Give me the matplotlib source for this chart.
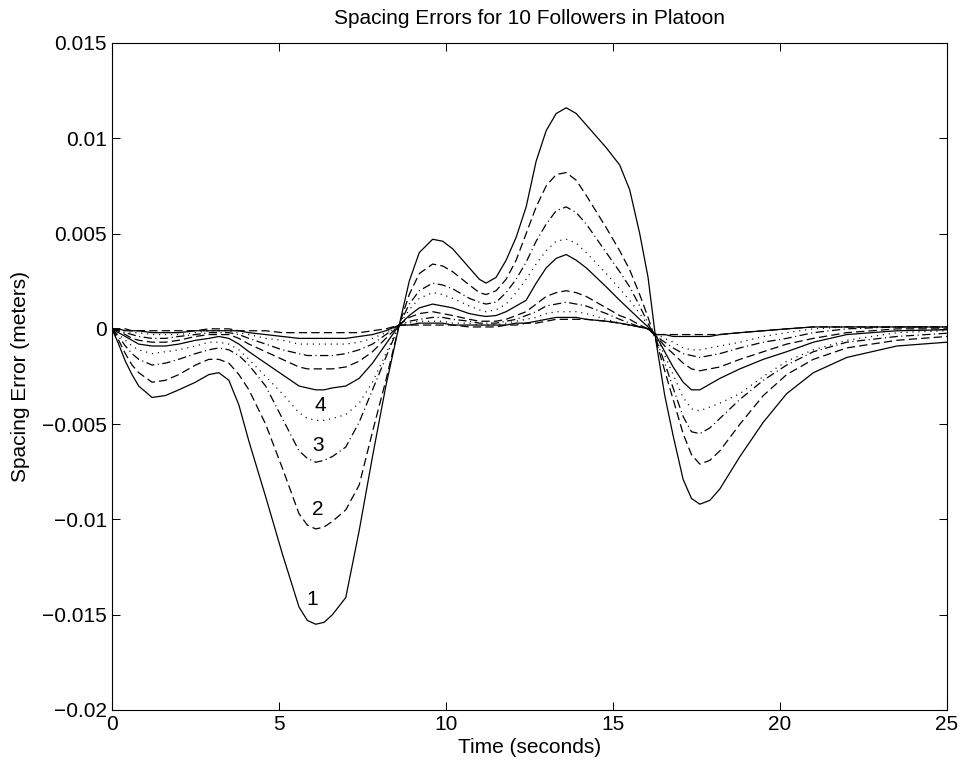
import numpy as np
import matplotlib
matplotlib.use("Agg")
import matplotlib.pyplot as plt

# time samples (s)
t = [0, 0.2, 0.4, 0.6, 0.8, 1.2, 1.6, 2.0,
     2.5, 2.9, 3.2, 3.5, 3.8, 4.1, 4.6, 5.1,
     5.6, 5.85, 6.1, 6.35, 6.6, 7.0, 7.4, 7.8,
     8.2, 8.6, 8.9, 9.2, 9.6, 9.9, 10.2, 10.7,
     11.0, 11.2, 11.5, 11.8, 12.1, 12.4, 12.7, 13.0,
     13.3, 13.6, 13.9, 14.2, 14.8, 15.2, 15.5, 15.8,
     16.05, 16.3, 16.55, 16.8, 17.1, 17.35, 17.6, 17.9,
     18.2, 18.8, 19.5, 20.2, 21.0, 22.0, 23.5, 25.0]

# spacing error of each follower (m)
e1 = [0, -0.0008, -0.0017, -0.0024, -0.0030, -0.0036, -0.0035, -0.0032,
      -0.0028, -0.0024, -0.0023, -0.0027, -0.0040, -0.0059, -0.0088, -0.0118,
      -0.0146, -0.0153, -0.0155, -0.0154, -0.0150, -0.0141, -0.0106, -0.0067,
      -0.0030, 0.0002, 0.0025, 0.0040, 0.0047, 0.0046, 0.0042, 0.0032,
      0.0026, 0.0024, 0.0027, 0.0036, 0.0048, 0.0064, 0.0088, 0.0104,
      0.0113, 0.0116, 0.0113, 0.0107, 0.0095, 0.0086, 0.0073, 0.0050,
      0.0027, -0.0008, -0.0035, -0.0056, -0.0079, -0.0089, -0.0092, -0.0090,
      -0.0084, -0.0067, -0.0049, -0.0034, -0.0023, -0.0015, -0.0009, -0.0007]
e2 = [0, -0.0006, -0.0013, -0.0019, -0.0023, -0.0028, -0.0027, -0.0024,
      -0.0019, -0.0016, -0.0016, -0.0018, -0.0024, -0.0032, -0.0050, -0.0073,
      -0.0097, -0.0103, -0.0105, -0.0104, -0.0101, -0.0095, -0.0082, -0.0054,
      -0.0027, 0.0002, 0.0018, 0.0029, 0.0034, 0.0033, 0.0030, 0.0023,
      0.0019, 0.0018, 0.0020, 0.0026, 0.0036, 0.0050, 0.0064, 0.0075,
      0.0081, 0.0082, 0.0078, 0.0070, 0.0053, 0.0041, 0.0031, 0.0018,
      0.0006, -0.0007, -0.0022, -0.0037, -0.0055, -0.0066, -0.0071, -0.0069,
      -0.0064, -0.0050, -0.0035, -0.0024, -0.0016, -0.0010, -0.0006, -0.0004]
e3 = [0, -0.0004, -0.0009, -0.0013, -0.0016, -0.0019, -0.0018, -0.0016,
      -0.0013, -0.0011, -0.0010, -0.0011, -0.0014, -0.0019, -0.0030, -0.0047,
      -0.0064, -0.0068, -0.0070, -0.0069, -0.0067, -0.0062, -0.0049, -0.0032,
      -0.0015, 0.0002, 0.0013, 0.0020, 0.0024, 0.0023, 0.0021, 0.0016,
      0.0014, 0.0013, 0.0014, 0.0019, 0.0026, 0.0035, 0.0046, 0.0055,
      0.0062, 0.0064, 0.0061, 0.0055, 0.0040, 0.0030, 0.0022, 0.0012,
      0.0003, -0.0006, -0.0018, -0.0031, -0.0046, -0.0054, -0.0055, -0.0052,
      -0.0047, -0.0037, -0.0027, -0.0019, -0.0012, -0.0007, -0.0004, -0.00023]
e4 = [0, -0.0003, -0.0006, -0.0009, -0.0011, -0.0013, -0.0012, -0.0011,
      -0.0009, -0.0007, -0.0007, -0.0008, -0.0011, -0.0016, -0.0025, -0.0034,
      -0.0044, -0.0047, -0.0048, -0.0048, -0.0047, -0.0045, -0.0039, -0.0028,
      -0.0013, 0.0002, 0.0010, 0.0016, 0.0019, 0.0018, 0.0016, 0.0012,
      0.0010, 0.0009, 0.0010, 0.0013, 0.0019, 0.0026, 0.0034, 0.0041,
      0.0046, 0.0047, 0.0045, 0.0040, 0.0029, 0.0021, 0.0015, 0.0008,
      0.0002, -0.0005, -0.0014, -0.0024, -0.0036, -0.0042, -0.0043, -0.0041,
      -0.0039, -0.0034, -0.0025, -0.0017, -0.0011, -0.0006, -0.0002, -0.0001]
e5 = [0, -0.0002, -0.0004, -0.0006, -0.0008, -0.0009, -0.0009, -0.0008,
      -0.0006, -0.0005, -0.0004, -0.0005, -0.0008, -0.0012, -0.0018, -0.0024,
      -0.0030, -0.0031, -0.0032, -0.0032, -0.0031, -0.0030, -0.0026, -0.0018,
      -0.0008, 0.0002, 0.0007, 0.0011, 0.0013, 0.0012, 0.0011, 0.0008,
      0.0007, 0.00065, 0.0007, 0.0009, 0.0012, 0.0015, 0.0024, 0.0032,
      0.0037, 0.0039, 0.0036, 0.0032, 0.0022, 0.0015, 0.0010, 0.0005,
      0.0001, -0.0004, -0.0012, -0.0020, -0.0028, -0.0032, -0.0032, -0.0029,
      -0.0026, -0.0021, -0.0016, -0.0012, -0.0007, -0.0003, -0.0001, -0.00005]
e6 = [0, -0.0001, -0.0003, -0.0005, -0.0006, -0.0007, -0.0007, -0.0006,
      -0.0004, -0.0003, -0.0003, -0.0003, -0.0005, -0.0008, -0.0012, -0.0016,
      -0.0020, -0.0021, -0.0021, -0.0021, -0.0021, -0.0020, -0.0017, -0.0012,
      -0.0005, 0.0002, 0.0006, 0.0008, 0.0009, 0.0008, 0.0007, 0.0005,
      0.0004, 0.0004, 0.0004, 0.0005, 0.0007, 0.0009, 0.0013, 0.0017,
      0.0019, 0.0020, 0.0019, 0.0017, 0.0011, 0.0007, 0.0005, 0.0002,
      0.0000, -0.0004, -0.0009, -0.0013, -0.0018, -0.0021, -0.0022, -0.0021,
      -0.0020, -0.0016, -0.0012, -0.0008, -0.0005, -0.0002, 0.0000, 0.0000]
e7 = [0, -0.0001, -0.0002, -0.0003, -0.0004, -0.0005, -0.0005, -0.0004,
      -0.0003, -0.0002, -0.0002, -0.0002, -0.0003, -0.0005, -0.0008, -0.0011,
      -0.0013, -0.0014, -0.0014, -0.0014, -0.0014, -0.0013, -0.0011, -0.0008,
      -0.0003, 0.0002, 0.0004, 0.0005, 0.0006, 0.0006, 0.0005, 0.0004,
      0.0003, 0.0003, 0.0003, 0.0004, 0.0005, 0.0007, 0.0009, 0.0012,
      0.0013, 0.0014, 0.0013, 0.0012, 0.0008, 0.0005, 0.0003, 0.0001,
      0.0000, -0.0004, -0.0007, -0.0010, -0.0013, -0.0014, -0.0015, -0.0014,
      -0.0013, -0.0010, -0.0007, -0.0005, -0.0002, 0.0000, 0.0001, 0.0001]
e8 = [0, -0.0001, -0.0001, -0.0002, -0.0002, -0.0003, -0.0003, -0.0003,
      -0.0002, -0.0001, -0.0001, -0.0001, -0.0002, -0.0003, -0.0005, -0.0006,
      -0.0008, -0.0008, -0.0008, -0.0008, -0.0008, -0.0008, -0.0007, -0.0005,
      -0.0002, 0.0002, 0.0003, 0.0004, 0.0004, 0.0004, 0.0003, 0.0003,
      0.0002, 0.0002, 0.0002, 0.0003, 0.0004, 0.0005, 0.0006, 0.0008,
      0.0009, 0.0009, 0.0009, 0.0008, 0.0005, 0.0003, 0.0002, 0.0001,
      0.0000, -0.0003, -0.0005, -0.0007, -0.0010, -0.0011, -0.0011, -0.0010,
      -0.0009, -0.0007, -0.0004, -0.0002, 0.0000, 0.0001, 0.0001, 0.0001]
e9 = [0, 0.0000, -0.0001, -0.0001, -0.0001, -0.0002, -0.0002, -0.0002,
      -0.0001, -0.0001, -0.0001, -0.0001, -0.0001, -0.0002, -0.0003, -0.0004,
      -0.0005, -0.0005, -0.0005, -0.0005, -0.0005, -0.0005, -0.0004, -0.0003,
      -0.0001, 0.0002, 0.0002, 0.0003, 0.0003, 0.0003, 0.0002, 0.0002,
      0.0002, 0.0002, 0.0002, 0.0002, 0.0003, 0.0003, 0.0004, 0.0005,
      0.0006, 0.0006, 0.0006, 0.0005, 0.0004, 0.0003, 0.0002, 0.0001,
      0.0000, -0.0003, -0.0003, -0.0004, -0.0004, -0.0004, -0.0004, -0.0004,
      -0.0003, -0.0002, -0.0001, 0.0000, 0.0001, 0.0001, 0.0001, 0.0001]
e10 = [0, 0.0000, 0.0000, -0.0001, -0.0001, -0.0001, -0.0001, -0.0001,
       -0.0001, 0.0000, 0.0000, 0.0000, -0.0001, -0.0001, -0.0001, -0.0002,
       -0.0002, -0.0002, -0.0002, -0.0002, -0.0002, -0.0002, -0.0002, -0.0001,
       0.0000, 0.0002, 0.0002, 0.0002, 0.0002, 0.0002, 0.0002, 0.0001,
       0.0001, 0.0001, 0.0001, 0.0002, 0.0002, 0.0003, 0.0003, 0.0004,
       0.0005, 0.0005, 0.0005, 0.0005, 0.0004, 0.0003, 0.0002, 0.0001,
       0.0000, -0.0003, -0.0003, -0.0003, -0.0003, -0.0003, -0.0003, -0.0003,
       -0.0003, -0.0002, -0.0001, 0.0000, 0.0001, 0.0001, 0.0001, 0.0001]

errors = [e1, e2, e3, e4, e5, e6, e7, e8, e9, e10]

# curve labels placed next to the first four curves
label_text = ["1", "2", "3", "4"]
label_t = [5.99, 6.17, 6.17, 6.23]
label_y = [-0.01422, -0.0095, -0.0061, -0.0040]

yticks = [0.015, 0.01, 0.005, 0, -0.005, -0.01, -0.015, -0.02]
ytick_labels = ["0.015", "0.01", "0.005", "0", "\u22120.005", "\u22120.01",
                "\u22120.015", "\u22120.02"]
xticks = [0, 5, 10, 15, 20, 25]

plt.rcParams['font.family'] = ['Liberation Sans', 'DejaVu Sans']
plt.rcParams['lines.scale_dashes'] = False

# matlab-like style cycle: solid, dashed, dash-dot, dotted
dash_cycle = [None, (6, 3), (6, 2.5, 0.8, 2.5), (0.8, 3.5)]

fig = plt.figure(figsize=(9.62, 7.65), dpi=100)
ax = fig.add_axes([0.1164, 0.0719, 0.868, 0.8719])

for i, e in enumerate(errors):
    d = dash_cycle[i % 4]
    line, = ax.plot(t, e, color='black', lw=0.9)
    if d is not None:
        line.set_dashes(d)

for s, x, y in zip(label_text, label_t, label_y):
    ax.text(x, y, s, fontsize=15, ha='center', va='center')

ax.set_xlim(0, 25)
ax.set_ylim(-0.02, 0.015)
ax.set_xticks(xticks)
ax.set_yticks(yticks)
ax.set_yticklabels(ytick_labels)
ax.tick_params(direction='in', length=5.8, width=0.75, labelsize=15,
               top=True, right=True)
for sp in ax.spines.values():
    sp.set_linewidth(0.8)

ax.set_title("Spacing Errors for 10 Followers in Platoon", fontsize=15, pad=14)
ax.set_xlabel("Time (seconds)", fontsize=15, labelpad=3)
ax.set_ylabel("Spacing Error (meters)", fontsize=15, labelpad=9)

fig.savefig("out.png", dpi=100)
